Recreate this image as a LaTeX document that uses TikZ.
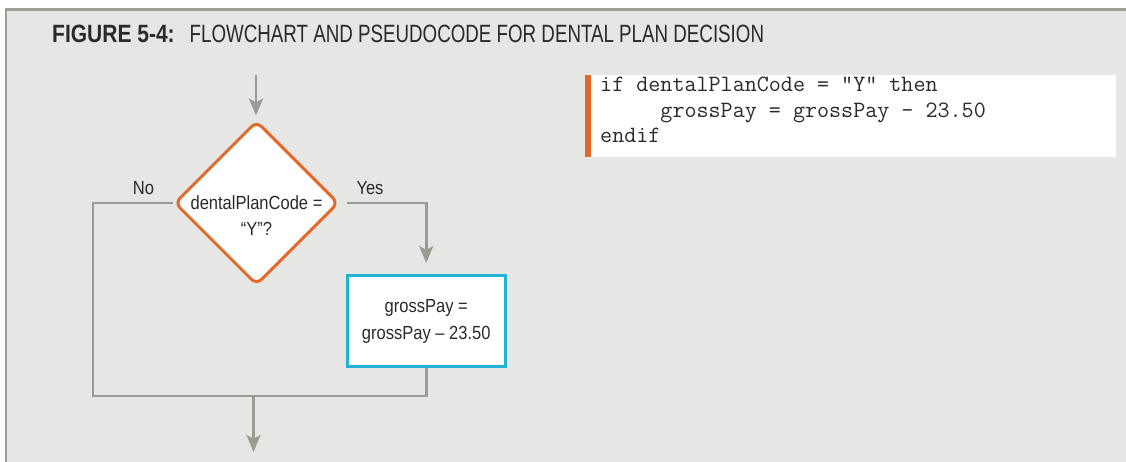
\documentclass[tikz,border=0pt]{standalone}
\usepackage{fontspec}
\usetikzlibrary{shapes.geometric,arrows.meta}
\setmainfont{Liberation Sans}
\newfontfamily\flowfont[FakeStretch=0.87]{Liberation Sans}
\newfontfamily\headbold[FakeStretch=0.84]{Liberation Sans}
\newfontfamily\headreg[FakeStretch=0.75]{Liberation Sans}

\definecolor{panelgray}{HTML}{E6E6E4}
\definecolor{framegray}{HTML}{9D9E98}
\definecolor{linegray}{HTML}{9B9B95}
\definecolor{decorange}{HTML}{E2692A}
\definecolor{boxcyan}{HTML}{22B2D4}
\definecolor{ink}{HTML}{2A2A2A}

\tikzset{
  flow/.style={draw=linegray, line width=2.8pt},
  arrowed/.style={-{Stealth[length=17pt,width=14pt,inset=4pt]}},
  flowtext/.style={font=\flowfont\fontsize{19}{26}\selectfont, text=ink, inner sep=0pt, align=center},
  decision/.style={diamond, aspect=1, draw=decorange, line width=3pt, fill=white,
    minimum width=164pt, minimum height=164pt, inner sep=0pt, rounded corners=7pt},
  process/.style={rectangle, draw=boxcyan, line width=3pt, fill=white,
    minimum width=158pt, minimum height=91pt, inner sep=0pt, align=center,
    font=\flowfont\fontsize{19}{27}\selectfont, text=ink},
}

\begin{document}
\begin{tikzpicture}[x=1pt,y=-1pt]
\useasboundingbox (0,0) rectangle (1126,462);
\fill[white] (0,0) rectangle (1126,462);

% figure panel with its frame
\fill[panelgray] (5,8) rectangle (1126,462);
\draw[framegray, line width=3pt] (5,9.5) -- (1126,9.5);
\draw[framegray, line width=2pt] (6,8) -- (6,462);

% caption
\node[anchor=base west, inner sep=0pt, text=ink] (caption) at (52,42.3)
  {\fontsize{25}{30}\selectfont\headbold\bfseries FIGURE 5-4:\hspace{15pt}\headreg\mdseries FLOWCHART AND PSEUDOCODE FOR DENTAL PLAN DECISION};

% pseudocode panel (anchored on the baseline of its last line)
\fill[white] (591,75) rectangle (1116,157);
\fill[decorange] (585,75) rectangle (591,157);
\node[anchor=base west, inner sep=0pt, align=left, text=ink,
      font=\ttfamily\fontsize{23.4}{25.5}\selectfont] (code) at (600,142.7)
  {if dentalPlanCode = "Y" then\\
   \phantom{xxxxx}grossPay = grossPay - 23.50\\
   endif};

% flowchart
\node[decision] (dec) at (256.5,203) {};
\node[flowtext] (dectext) at (256.5,216) {dentalPlanCode =\\“Y”?};
\node[process] (calc) at (426.2,321) {grossPay =\\grossPay – 23.50};

\node[flowtext, anchor=base] (nolabel) at (143.5,195) {No};
\node[flowtext, anchor=base] (yeslabel) at (370,195) {Yes};

\coordinate (entry) at (256,75);
\coordinate (leftrail) at (93,203);
\coordinate (merge) at (253.5,396);
\coordinate (exit) at (253.5,452);

\draw[flow, arrowed, shorten >=4pt] (entry) -- (dec.north -| entry);
\draw[flow] (dec.west) -- (leftrail) |- (merge) -| (calc.south);
\draw[flow, arrowed, shorten >=11pt] ([xshift=7pt]dec.east) -| (calc.north);
\draw[flow, arrowed] (merge) -- (exit);
\end{tikzpicture}
\end{document}
